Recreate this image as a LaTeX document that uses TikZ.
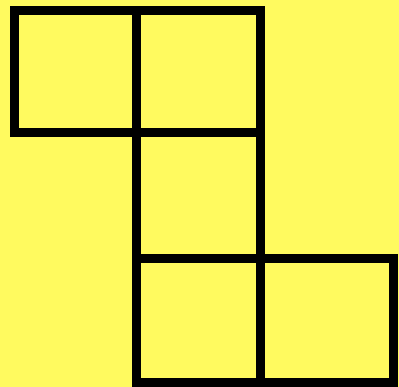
\documentclass[tikz,border=0pt]{standalone}
\definecolor{bgyellow}{RGB}{255,250,95}
\tikzset{cell/.style={draw=black,line width=9pt,line join=miter}}
\begin{document}
\begin{tikzpicture}[x=1pt,y=-1pt]
\fill[bgyellow] (0,0) rectangle (399,387);
\useasboundingbox (0,0) rectangle (399,387);
\draw[cell] (14.5,10.5) rectangle (136,133);
\draw[cell] (136,10.5) rectangle (260,133);
\draw[cell] (136,133) rectangle (260,259);
\draw[cell] (136,259) rectangle (260,382);
\draw[cell] (260,259) rectangle (393,382);
\end{tikzpicture}
\end{document}
